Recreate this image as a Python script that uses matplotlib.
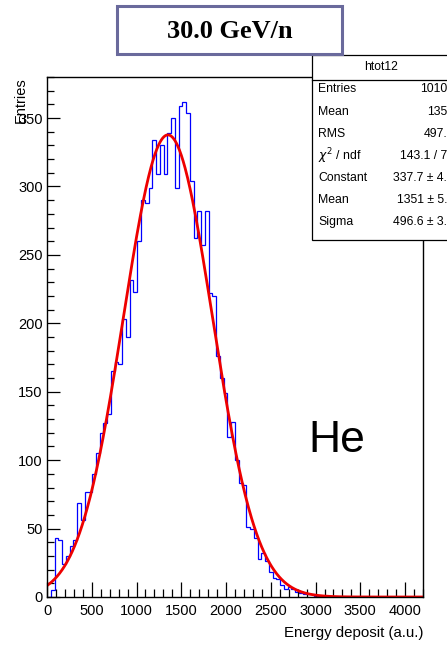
import numpy as np
import matplotlib.pyplot as plt
from matplotlib.patches import Rectangle
from matplotlib.ticker import MultipleLocator

plt.rcParams['font.family'] = ['Liberation Sans', 'DejaVu Sans']

# histogram htot12: 100 bins from 0 to 4200 (energy deposit, a.u.)
bin_lo = 0
bin_hi = 4200
n_bins = 100
counts = [0, 5, 43, 42, 24, 30, 37, 42, 69, 56,
          77, 77, 90, 105, 120, 127, 134, 165, 172, 170,
          203, 190, 232, 223, 260, 290, 288, 299, 334, 309,
          330, 309, 339, 350, 299, 359, 362, 354, 304, 262,
          282, 257, 282, 222, 220, 176, 160, 149, 117, 128,
          100, 83, 82, 51, 50, 43, 28, 32, 26, 18,
          14, 13, 9, 6, 7, 6, 4, 3, 2, 2,
          2, 1, 1, 0, 1, 0, 0, 0, 0, 0,
          0, 0, 0, 0, 0, 0, 0, 0, 0, 0,
          0, 0, 0, 0, 0, 0, 0, 0, 0, 0]

# gaussian fit parameters from the stats box
fit_const = 337.7
fit_mean = 1351
fit_sigma = 496.6

stat_names = ["Entries", "Mean", "RMS", r"$\chi^{2}$ / ndf", "Constant", "Mean", "Sigma"]
stat_values = ["10108", "1355", "497.9", "143.1 / 74", "337.7 \u00b1 4.3", "1351 \u00b1 5.3", "496.6 \u00b1 3.9"]

W, H = 447, 645
def fx(px):
    return px / W
def fy(py):
    return 1 - py / H

fig = plt.figure(figsize=(W / 100, H / 100), dpi=100)
ax = fig.add_axes([fx(47), fy(597), (423 - 47) / W, (597 - 77) / H])

edges = np.linspace(bin_lo, bin_hi, n_bins + 1)
ax.stairs(counts, edges, color='#0000ff', lw=0.9)

xf = np.linspace(bin_lo, bin_hi, 600)
ax.plot(xf, fit_const * np.exp(-0.5 * ((xf - fit_mean) / fit_sigma) ** 2), color='#ee0000', lw=2.0)

ax.set_xlim(bin_lo, bin_hi)
ax.set_ylim(0, 380)
ax.xaxis.set_major_locator(MultipleLocator(500))
ax.xaxis.set_minor_locator(MultipleLocator(100))
ax.yaxis.set_major_locator(MultipleLocator(50))
ax.yaxis.set_minor_locator(MultipleLocator(10))
ax.tick_params(which='both', direction='in', top=False, right=False, labelsize=10.5, width=0.9)
ax.tick_params(axis='x', which='major', length=11, pad=5)
ax.tick_params(axis='x', which='minor', length=5.5)
ax.tick_params(axis='y', which='major', length=9.5, pad=3)
ax.tick_params(axis='y', which='minor', length=5)
for s in ax.spines.values():
    s.set_linewidth(1.0)

fig.text(fx(21), fy(77), "Entries", rotation=90, ha='center', va='top', fontsize=10.5)
fig.text(fx(423), fy(633), "Energy deposit (a.u.)", ha='right', va='center', fontsize=10.8)
fig.text(fx(337), fy(441), "He", ha='center', va='center', fontsize=32)

# stats box
fig.patches.append(Rectangle((fx(312), fy(240)), (455 - 312) / W, (240 - 55) / H,
                             transform=fig.transFigure, facecolor='white', edgecolor='black', lw=0.9, zorder=3))
fig.lines.append(plt.Line2D([fx(312), fx(455)], [fy(80), fy(80)], transform=fig.transFigure,
                            color='black', lw=0.9, zorder=4))
fig.text(fx(381), fy(67), "htot12", ha='center', va='center', fontsize=8.8, zorder=5)
for i in range(len(stat_names)):
    y = fy(89.5 + 22.1 * i)
    fig.text(fx(318), y, stat_names[i], ha='left', va='center', fontsize=8.8, zorder=5)
    fig.text(fx(454), y, stat_values[i], ha='right', va='center', fontsize=8.8, zorder=5)

# title box
fig.patches.append(Rectangle((fx(117), fy(54)), (342 - 117) / W, (54 - 6) / H,
                             transform=fig.transFigure, facecolor='white', edgecolor='#6a6a9c', lw=2.2, zorder=6))
fig.text(fx(230), fy(31), "30.0 GeV/n", ha='center', va='center', fontsize=19,
         fontweight='bold', family=['Liberation Serif', 'DejaVu Serif'], zorder=7)

fig.savefig("out.png", dpi=100)
